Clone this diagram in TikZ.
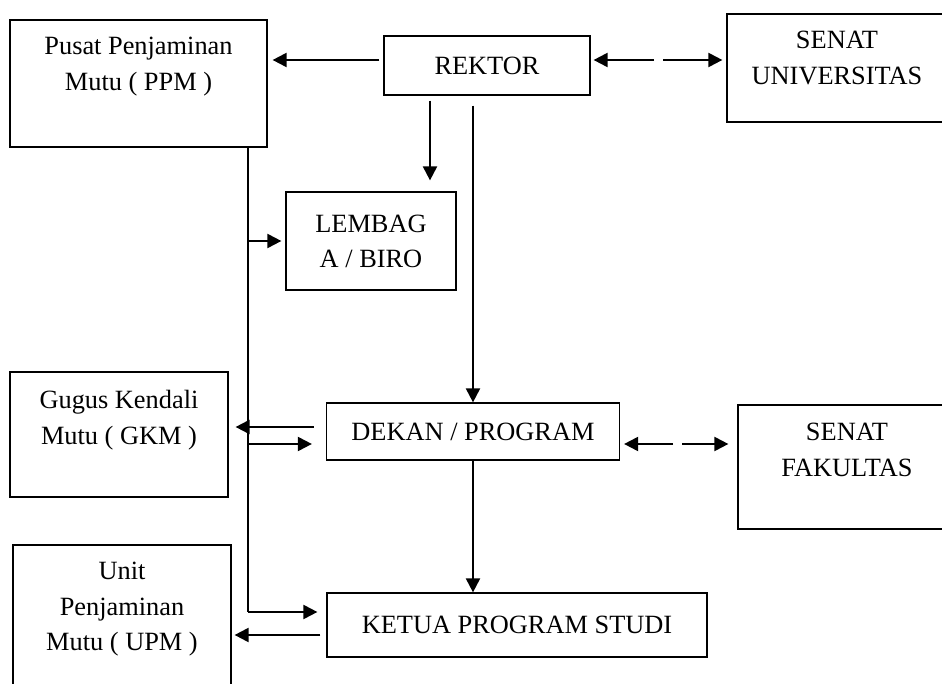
\documentclass[tikz,border=0pt]{standalone}
\usepackage{fontspec}
\setmainfont{Liberation Serif}
\usetikzlibrary{arrows.meta, positioning, calc}

\begin{document}
\begin{tikzpicture}[
    bx/.style={draw,line width=0.7pt,inner sep=0pt,align=flush center,
               font=\fontsize{15}{20}\selectfont},
    tbx/.style={bx,text width=#1},
    arr/.style={-{Triangle[length=0.28cm,width=0.28cm]},line width=1.2pt},
    ln/.style={line width=0.8pt}
  ]
  \useasboundingbox (0,0) rectangle (18.84,13.68);
  % Top row
  \node[tbx=5.14cm,text height=0.70cm,text depth=1.84cm] (ppm) at (2.77,12.01) {Pusat Penjaminan\\Mutu ( PPM )};
  \node[bx,minimum width=4.12cm,minimum height=1.18cm] (rektor) at (9.74,12.37) {REKTOR};
  \node[tbx=4.40cm,text height=0.70cm,text depth=1.46cm] (senatu) at (16.74,12.32) {SENAT\\UNIVERSITAS};
  \node[bx,minimum width=3.40cm,minimum height=1.96cm] (lembaga) at (7.42,8.86) {LEMBAG\\A / BIRO};
  % Middle row
  \node[tbx=4.36cm,text height=0.74cm,text depth=1.76cm] (gkm) at (2.38,4.99) {Gugus Kendali\\Mutu ( GKM )};
  \node[bx,minimum width=5.86cm,minimum height=1.14cm] (dekan) at (9.46,5.05) {DEKAN / PROGRAM};
  \node[tbx=4.36cm,text height=0.72cm,text depth=1.76cm] (senatf) at (16.94,4.34) {SENAT\\FAKULTAS};
  % Bottom row
  \node[tbx=4.36cm,text height=0.70cm,text depth=2.40cm] (upm) at (2.44,1.23) {Unit\\Penjaminan\\Mutu ( UPM )};
  \node[bx,minimum width=7.60cm,minimum height=1.28cm] (ketua) at (10.34,1.18) {KETUA PROGRAM STUDI};
  % Rektor links
  \coordinate (ru) at (13.17,12.48);
  \draw[arr,shorten <=0.08cm,shorten >=0.10cm] (rektor.west |- ru) -- (ppm.east |- ru);
  \draw[arr,shorten <=0.09cm,shorten >=0.06cm] (ru) -- (rektor.east |- ru);
  \draw[arr,shorten <=0.09cm,shorten >=0.08cm] (ru) -- (senatu.west |- ru);
  \draw[arr,shorten <=0.10cm,shorten >=0.22cm] (rektor.south -| 8.60,0) -- (lembaga.north -| 8.60,0);
  \draw[arr,shorten <=0.20cm] (rektor.south -| dekan.north) -- (dekan.north);
  % PPM line
  \coordinate (tk) at (4.96,1.44);
  \draw[ln] (ppm.south -| tk) -- (tk);
  \draw[arr,shorten >=0.18cm] (tk) -- (ketua.west |- tk);
  \draw[arr,shorten >=0.08cm] (tk |- lembaga.west) -- (lembaga.west);
  \draw[arr,shorten >=0.28cm] (tk |- 0,4.80) -- (dekan.west |- 0,4.80);
  % Dekan links
  \coordinate (fu) at (13.55,4.80);
  \draw[arr,shorten <=0.24cm,shorten >=0.14cm] (dekan.west |- 0,5.14) -- (gkm.east |- 0,5.14);
  \draw[arr,shorten <=0.09cm,shorten >=0.08cm] (fu) -- (dekan.east |- fu);
  \draw[arr,shorten <=0.09cm,shorten >=0.18cm] (fu) -- (senatf.west |- fu);
  \draw[arr] (dekan.south) -- (ketua.north -| dekan.south);
  % Ketua link
  \draw[arr,shorten <=0.12cm,shorten >=0.06cm] (ketua.west |- 0,0.98) -- (upm.east |- 0,0.98);
\end{tikzpicture}
\end{document}
